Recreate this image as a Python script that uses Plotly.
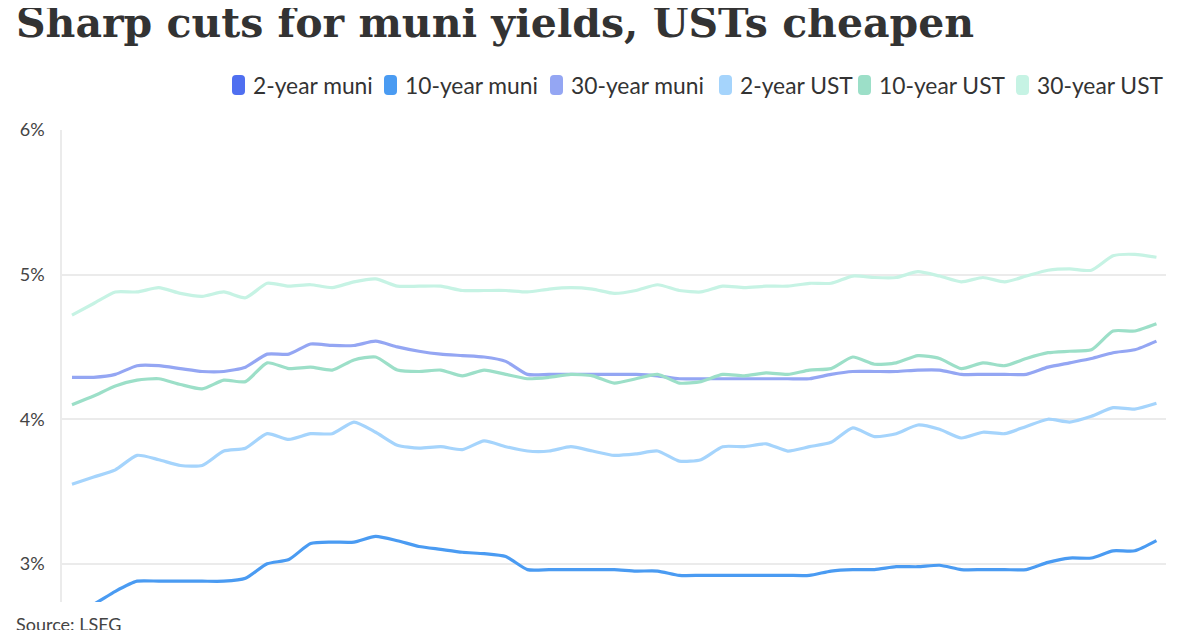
import plotly.graph_objects as go

# muni vs treasury yields, daily
days = list(range(51))

muni_2y = [2.38, 2.42, 2.47, 2.52, 2.52, 2.52, 2.52, 2.52, 2.53, 2.58,
           2.60, 2.66, 2.67, 2.67, 2.69, 2.67, 2.64, 2.62, 2.60, 2.59,
           2.57, 2.52, 2.52, 2.52, 2.52, 2.52, 2.51, 2.51, 2.49, 2.49,
           2.49, 2.49, 2.49, 2.49, 2.49, 2.51, 2.52, 2.52, 2.53, 2.53,
           2.54, 2.52, 2.52, 2.52, 2.52, 2.55, 2.57, 2.57, 2.60, 2.60,
           2.64]

muni_10y = [2.65, 2.72, 2.81, 2.88, 2.88, 2.88, 2.88, 2.88, 2.90, 3.00,
            3.03, 3.14, 3.15, 3.15, 3.19, 3.16, 3.12, 3.10, 3.08, 3.07,
            3.05, 2.96, 2.96, 2.96, 2.96, 2.96, 2.95, 2.95, 2.92, 2.92,
            2.92, 2.92, 2.92, 2.92, 2.92, 2.95, 2.96, 2.96, 2.98, 2.98,
            2.99, 2.96, 2.96, 2.96, 2.96, 3.01, 3.04, 3.04, 3.09, 3.09,
            3.16]

muni_30y = [4.29, 4.29, 4.31, 4.37, 4.37, 4.35, 4.33, 4.33, 4.36, 4.45,
            4.45, 4.52, 4.51, 4.51, 4.54, 4.50, 4.47, 4.45, 4.44, 4.43,
            4.40, 4.31, 4.31, 4.31, 4.31, 4.31, 4.31, 4.30, 4.28, 4.28,
            4.28, 4.28, 4.28, 4.28, 4.28, 4.31, 4.33, 4.33, 4.33, 4.34,
            4.34, 4.31, 4.31, 4.31, 4.31, 4.36, 4.39, 4.42, 4.46, 4.48,
            4.54]

ust_2y = [3.55, 3.60, 3.65, 3.75, 3.72, 3.68, 3.68, 3.78, 3.80, 3.90,
          3.86, 3.90, 3.90, 3.98, 3.91, 3.82, 3.80, 3.81, 3.79, 3.85,
          3.81, 3.78, 3.78, 3.81, 3.78, 3.75, 3.76, 3.78, 3.71, 3.72,
          3.81, 3.81, 3.83, 3.78, 3.81, 3.84, 3.94, 3.88, 3.90, 3.96,
          3.93, 3.87, 3.91, 3.90, 3.95, 4.00, 3.98, 4.02, 4.08, 4.07,
          4.11]

ust_10y = [4.10, 4.16, 4.23, 4.27, 4.28, 4.24, 4.21, 4.27, 4.26, 4.39,
           4.35, 4.36, 4.34, 4.41, 4.43, 4.34, 4.33, 4.34, 4.30, 4.34,
           4.31, 4.28, 4.29, 4.31, 4.30, 4.25, 4.28, 4.31, 4.25, 4.26,
           4.31, 4.30, 4.32, 4.31, 4.34, 4.35, 4.43, 4.38, 4.39, 4.44,
           4.42, 4.35, 4.39, 4.37, 4.42, 4.46, 4.47, 4.48, 4.61, 4.61,
           4.66]

ust_30y = [4.72, 4.80, 4.88, 4.88, 4.91, 4.87, 4.85, 4.88, 4.84, 4.94,
           4.92, 4.93, 4.91, 4.95, 4.97, 4.92, 4.92, 4.92, 4.89, 4.89,
           4.89, 4.88, 4.90, 4.91, 4.90, 4.87, 4.89, 4.93, 4.89, 4.88,
           4.92, 4.91, 4.92, 4.92, 4.94, 4.94, 4.99, 4.98, 4.98, 5.02,
           4.99, 4.95, 4.98, 4.95, 4.99, 5.03, 5.04, 5.03, 5.13, 5.14,
           5.12]

names = ["2-year muni", "10-year muni", "30-year muni", "2-year UST", "10-year UST", "30-year UST"]
series = [muni_2y, muni_10y, muni_30y, ust_2y, ust_10y, ust_30y]
colors = ["#4f6ff0", "#4a9bf2", "#94a6f3", "#a5d4fc", "#9cdfc8", "#c6f3e4"]
ytick_vals = [3, 4, 5, 6]
ytick_text = ["3%", "4%", "5%", "6%"]

# page body has an 8px margin, so the figure sits 8px in from the window edge
OFF = 8
W, H = 1200, 630
L, R, T, B = 54, 42, 122, 36


# window pixel -> paper coords, used for the title/legend/source placement only
def px(x):
    return (x - OFF - L) / (W - L - R)


def py(y):
    return (H - B - (y - OFF)) / (H - T - B)


fig = go.Figure()

for name, vals, col in zip(names, series, colors):
    fig.add_trace(go.Scatter(x=days, y=vals, mode="lines", name=name,
                             line=dict(color=col, width=3.2, shape="spline", smoothing=0.6),
                             showlegend=False, hoverinfo="skip"))

# hand-built legend: rounded blocks + labels
legend_x = [232, 384, 550, 719, 858, 1016]
for name, col, lx in zip(names, colors, legend_x):
    x0, x1, y0, y1, r = lx, lx + 13, 75, 95, 4
    path = (f"M {px(x0 + r)},{py(y0)} L {px(x1 - r)},{py(y0)} Q {px(x1)},{py(y0)} {px(x1)},{py(y0 + r)} "
            f"L {px(x1)},{py(y1 - r)} Q {px(x1)},{py(y1)} {px(x1 - r)},{py(y1)} "
            f"L {px(x0 + r)},{py(y1)} Q {px(x0)},{py(y1)} {px(x0)},{py(y1 - r)} "
            f"L {px(x0)},{py(y0 + r)} Q {px(x0)},{py(y0)} {px(x0 + r)},{py(y0)} Z")
    fig.add_shape(type="path", path=path, xref="paper", yref="paper",
                  fillcolor=col, line=dict(width=0))
    fig.add_annotation(text=name, xref="paper", yref="paper", x=px(lx + 19), y=py(85),
                       xanchor="left", yanchor="middle", showarrow=False,
                       font=dict(family="Lato", size=22.8, color="#333333"))

fig.add_annotation(text="<b>Sharp cuts for muni yields, USTs cheapen</b>",
                   xref="paper", yref="paper", x=px(14), y=py(23),
                   xanchor="left", yanchor="middle", showarrow=False,
                   font=dict(family="DejaVu Serif", size=41, color="#333333"))

fig.add_annotation(text="Source: LSEG", xref="paper", yref="paper", x=px(14), y=py(611),
                   xanchor="left", yanchor="top", showarrow=False,
                   font=dict(family="Lato", size=18, color="#444444"))

fig.update_layout(
    width=W, height=H,
    margin=dict(l=L, r=R, t=T, b=B, autoexpand=False),
    paper_bgcolor="white", plot_bgcolor="white",
    font=dict(family="Lato", color="#333333"),
    showlegend=False,
    xaxis=dict(range=[-0.46, 50.44], showgrid=False, zeroline=False,
               showticklabels=False, showline=False, ticks=""),
    yaxis=dict(range=[2.736, 6.0], tickvals=ytick_vals, ticktext=ytick_text,
               showgrid=True, gridcolor="#ebebeb", gridwidth=1.5, zeroline=False,
               showline=True, linecolor="#ebebeb", linewidth=1.5,
               ticks="", ticklabelstandoff=12, automargin=False,
               tickfont=dict(family="Lato", size=18, color="#444444")),
)

fig.write_html("out.html")
